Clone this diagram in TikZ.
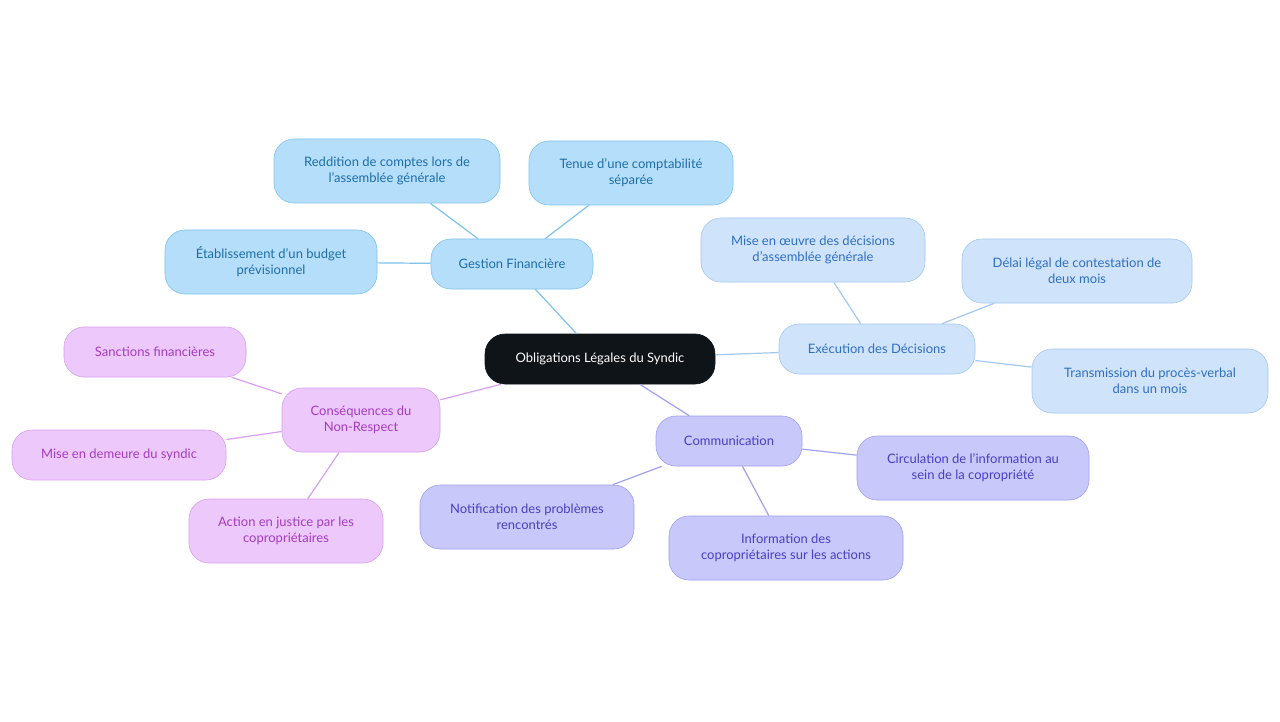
\documentclass[tikz,border=0pt]{standalone}
\usepackage{fontspec}
\setmainfont{Lato}
\begin{document}
\begin{tikzpicture}[x=1pt,y=-1pt,
 base/.style={rounded corners=20pt,draw,line width=0.6pt,align=center,font=\fontsize{13}{16}\selectfont,inner sep=0pt},
 bl/.style={base,fill=blue!5!cyan!25,draw=cyan!50!blue!45,fill={rgb,255:red,181;green,222;blue,250},draw={rgb,255:red,126;green,195;blue,236},text={rgb,255:red,30;green,110;blue,168}},
 lb/.style={base,fill={rgb,255:red,207;green,227;blue,251},draw={rgb,255:red,163;green,200;blue,240},text={rgb,255:red,47;green,111;blue,192}},
 pu/.style={base,fill={rgb,255:red,200;green,200;blue,251},draw={rgb,255:red,160;green,160;blue,239},text={rgb,255:red,75;green,63;blue,191}},
 pk/.style={base,fill={rgb,255:red,236;green,200;blue,251},draw={rgb,255:red,216;green,160;blue,239},text={rgb,255:red,164;green,60;blue,192}},
 eb/.style={line width=1.2pt,draw={rgb,255:red,126;green,195;blue,236}},
 el/.style={line width=1.2pt,draw={rgb,255:red,163;green,200;blue,240}},
 ep/.style={line width=1.2pt,draw={rgb,255:red,160;green,160;blue,239}},
 ek/.style={line width=1.2pt,draw={rgb,255:red,216;green,160;blue,239}}]
\useasboundingbox (0,0) rectangle (1280,722);
\fill[white] (0,0) rectangle (1280,722);
\begin{scope}[every node/.append style={}]
\node[base,fill={rgb,255:red,15;green,20;blue,25},draw={rgb,255:red,15;green,20;blue,25},text=white,minimum width=230pt,minimum height=50pt] (root) at (600,359) {Obligations Légales du Syndic};
\node[bl,minimum width=162pt,minimum height=50pt] (gf) at (512,264) {Gestion Financière};
\node[bl,minimum width=226pt,minimum height=64pt] (g1) at (387,171) {Reddition de comptes lors de\\l'assemblée générale};
\node[bl,minimum width=204pt,minimum height=64pt] (g2) at (631,173) {Tenue d'une comptabilité\\séparée};
\node[bl,minimum width=212pt,minimum height=64pt] (g3) at (271,262) {Établissement d'un budget\\prévisionnel};
\node[lb,minimum width=196pt,minimum height=50pt] (ex) at (877,349) {Exécution des Décisions};
\node[lb,minimum width=224pt,minimum height=64pt] (e1) at (813,250) {Mise en œuvre des décisions\\d'assemblée générale};
\node[lb,minimum width=230pt,minimum height=64pt] (e2) at (1077,271) {Délai légal de contestation de\\deux mois};
\node[lb,minimum width=236pt,minimum height=64pt] (e3) at (1150,381) {Transmission du procès-verbal\\dans un mois};
\node[pu,minimum width=146pt,minimum height=50pt] (co) at (729,441) {Communication};
\node[pu,minimum width=232pt,minimum height=64pt] (c1) at (973,468) {Circulation de l'information au\\sein de la copropriété};
\node[pu,minimum width=214pt,minimum height=64pt] (c2) at (527,517) {Notification des problèmes\\rencontrés};
\node[pu,minimum width=234pt,minimum height=64pt] (c3) at (786,548) {Information des\\copropriétaires sur les actions};
\node[pk,minimum width=158pt,minimum height=64pt] (cs) at (361,420) {Conséquences du\\Non-Respect};
\node[pk,minimum width=182pt,minimum height=50pt] (k1) at (155,352) {Sanctions financières};
\node[pk,minimum width=214pt,minimum height=50pt] (k2) at (119,455) {Mise en demeure du syndic};
\node[pk,minimum width=194pt,minimum height=64pt] (k3) at (286,531) {Action en justice par les\\copropriétaires};
\end{scope}
\begin{scope}[on background layer/.style={}]
\end{scope}
\draw[eb] (root) -- (gf); \draw[eb] (gf) -- (g1); \draw[eb] (gf) -- (g2); \draw[eb] (gf) -- (g3);
\draw[el] (root) -- (ex); \draw[el] (ex) -- (e1); \draw[el] (ex) -- (e2); \draw[el] (ex) -- (e3);
\draw[ep] (root) -- (co); \draw[ep] (co) -- (c1); \draw[ep] (co) -- (c2); \draw[ep] (co) -- (c3);
\draw[ek] (root) -- (cs); \draw[ek] (cs) -- (k1); \draw[ek] (cs) -- (k2); \draw[ek] (cs) -- (k3);
\end{tikzpicture}
\end{document}
